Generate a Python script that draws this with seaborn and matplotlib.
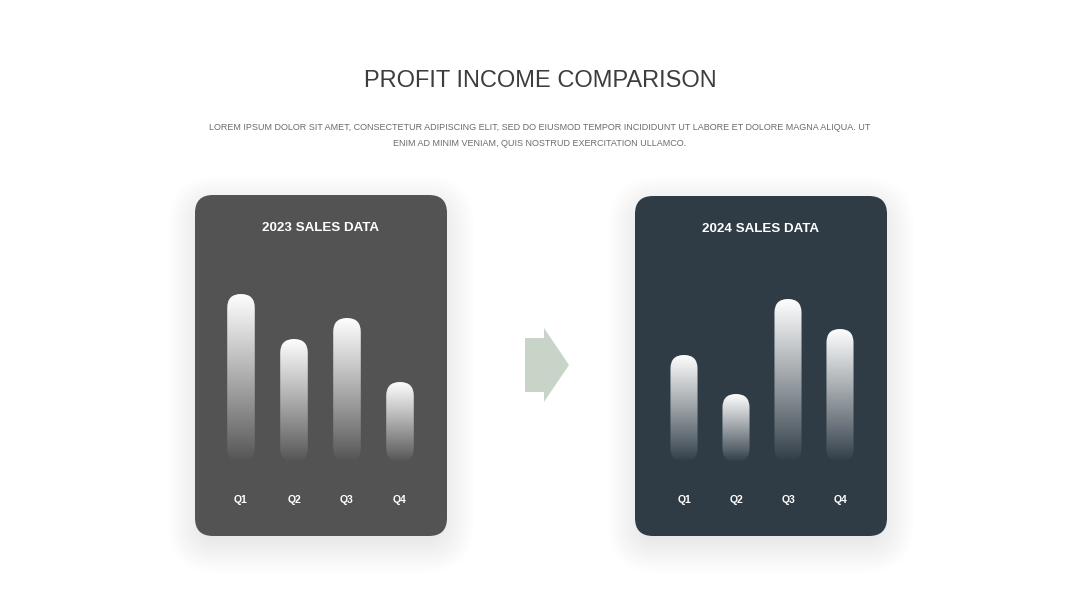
import matplotlib
matplotlib.use('Agg')
import matplotlib.pyplot as plt
from matplotlib.patches import FancyBboxPatch, Polygon
import numpy as np
import pandas as pd
import seaborn as sns

# data (bar heights in px above the baseline)
quarters = ['Q1', 'Q2', 'Q3', 'Q4']
sales_2023 = [168, 123, 144, 80]
sales_2024 = [107, 68, 163, 133]

title = 'PROFIT INCOME COMPARISON'
subtitle = ('LOREM IPSUM DOLOR SIT AMET, CONSECTETUR ADIPISCING ELIT, SED DO EIUSMOD TEMPOR '
            'INCIDIDUNT UT LABORE ET DOLORE MAGNA ALIQUA. UT\n'
            'ENIM AD MINIM VENIAM, QUIS NOSTRUD EXERCITATION ULLAMCO.')

sns.set_theme(style='white')
plt.rcParams['font.family'] = ['Liberation Sans', 'DejaVu Sans']

W, H = 1080, 608
fig = plt.figure(figsize=(W / 100, H / 100), dpi=100)
fig.patch.set_facecolor('white')

# background axes in pixel units (y down)
bg = fig.add_axes([0, 0, 1, 1])
bg.set_xlim(0, W)
bg.set_ylim(H, 0)
bg.axis('off')


def card(x0, y0, x1, y1, color, label):
    # soft shadow, a stack of faint boxes
    for i in range(22):
        g = i * 1.6
        bg.add_patch(FancyBboxPatch((x0 - g + 6, y0 - g + 14), (x1 - x0) + 2 * g - 12, (y1 - y0) + 2 * g - 10,
                                    boxstyle=f'round,pad=0,rounding_size={18 + g}',
                                    fc='black', ec='none', alpha=0.005))
    bg.add_patch(FancyBboxPatch((x0, y0), x1 - x0, y1 - y0,
                                boxstyle='round,pad=0,rounding_size=18', fc=color, ec='none'))
    bg.text((x0 + x1) / 2, y0 + 33, label, ha='center', va='center',
            fontsize=9.6, fontweight='bold', color='white')


def bar_panel(x0, x1, y_top, y_base, values):
    ax = fig.add_axes([x0 / W, 1 - y_base / H, (x1 - x0) / W, (y_base - y_top) / H])
    df = pd.DataFrame({'quarter': quarters, 'value': values})
    sns.barplot(data=df, x='quarter', y='value', ax=ax, width=0.52, color='white')
    ax.set_xlim(-0.5, 3.5)
    ax.set_ylim(0, y_base - y_top)
    ax.set_autoscale_on(False)
    unit = (x1 - x0) / 4  # px per category
    grad = np.ones((256, 1, 4))
    grad[..., 3] = np.linspace(1, 0, 256)[:, None] ** 0.95
    for bar in list(ax.patches):
        bx, bw, bh = bar.get_x(), bar.get_width(), bar.get_height()
        clip = FancyBboxPatch((bx, 0), bw, bh, boxstyle=f'round,pad=0,rounding_size={bw / 2}',
                              mutation_aspect=unit, fc='none', ec='none')
        ax.add_patch(clip)
        im = ax.imshow(grad, extent=(bx, bx + bw, 0, bh), aspect='auto', origin='upper',
                       interpolation='bilinear')
        im.set_clip_path(clip)
        bar.set_visible(False)
    ax.set_xlim(-0.5, 3.5)
    ax.set_ylim(0, y_base - y_top)
    ax.patch.set_alpha(0)
    sns.despine(ax=ax, left=True, bottom=True)
    ax.set_yticks([])
    ax.set_xlabel('')
    ax.set_ylabel('')
    ax.tick_params(axis='x', length=0, pad=24, labelsize=7.5, labelcolor='white')
    for lbl in ax.get_xticklabels():
        lbl.set_fontweight('bold')


card(195, 195, 447, 536, '#535353', '2023 SALES DATA')
card(635, 196, 887, 536, '#2f3c46', '2024 SALES DATA')

bar_panel(214.5, 426.5, 270, 462, sales_2023)
bar_panel(658, 866, 270, 462, sales_2024)

# arrow between the cards
bg.add_patch(Polygon([(525, 338), (544, 338), (544, 328), (569, 365), (544, 402),
                      (544, 392), (525, 392)], closed=True, fc='#c9d4c9', ec='none'))

bg.text(540, 81, title, ha='center', va='center', fontsize=17, color='#3d3d3d')
bg.text(540, 135, subtitle, ha='center', va='center', fontsize=6.5, color='#6b6b6b',
        linespacing=2.0)

fig.savefig('out.png', dpi=100)
